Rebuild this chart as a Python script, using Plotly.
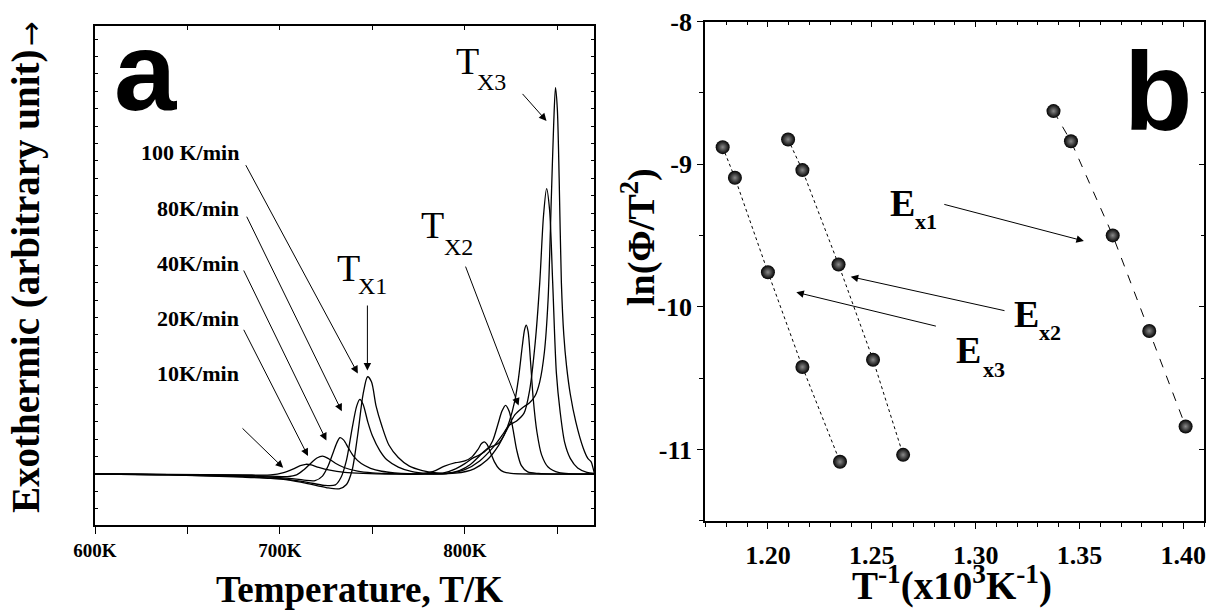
import plotly.graph_objects as go

W, H = 1208, 610

# ---------------- Panel a : DSC traces (T in K, signal in arbitrary units) ----------------
T10 = [600, 640, 680, 695, 702, 707, 711, 714, 717, 721, 727, 735, 745, 760, 775, 783, 789, 795, 800,
       804, 807, 809, 810.5, 812, 814, 816, 818.5, 821, 825, 835, 870]
Y10 = [0, -0.02, -0.05, -0.05, 0.08, 0.28, 0.48, 0.56, 0.52, 0.38, 0.22, 0.1, 0.04, 0.0, 0.0, 0.15, 0.45,
       0.65, 0.75, 1.0, 1.4, 1.75, 1.85, 1.7, 1.2, 0.7, 0.3, 0.12, 0.04, 0.0, 0.0]

T20 = [600, 640, 680, 695, 704, 709, 713, 717, 720, 723, 726, 730, 735, 742, 750, 760, 775, 788, 795,
       800, 804, 808, 812, 815, 818, 820, 822, 824, 826, 828, 830.5, 834, 840, 870]
Y20 = [0, -0.03, -0.08, -0.12, -0.15, -0.05, 0.25, 0.65, 0.92, 1.03, 0.9, 0.62, 0.36, 0.17, 0.07, 0.02,
       0.0, 0.05, 0.3, 0.6, 0.9, 1.1, 1.4, 1.9, 2.9, 3.6, 3.95, 3.6, 2.6, 1.4, 0.5, 0.12, 0.03, 0.0]

T40 = [600, 640, 680, 695, 705, 713, 719, 723, 726, 729, 731, 732.5, 734.5, 737, 740, 744, 749, 755,
       762, 770, 780, 790, 797, 803, 808, 812, 815, 818, 821, 824, 827, 829, 831, 832.3, 833.2, 834.2,
       835.5, 837, 839, 841.5, 845, 851, 870]
Y40 = [0, -0.04, -0.1, -0.17, -0.25, -0.35, -0.38, -0.12, 0.45, 1.3, 1.85, 2.09, 1.95, 1.5, 1.0, 0.6,
       0.33, 0.16, 0.07, 0.02, 0.0, 0.03, 0.2, 0.55, 1.05, 1.45, 1.6, 1.75, 2.2, 3.0, 4.2, 5.5, 7.3, 8.3,
       8.56, 8.2, 6.5, 4.3, 2.4, 1.1, 0.4, 0.08, 0.0]

T80 = [600, 640, 680, 695, 705, 715, 724, 730, 733, 736, 739, 741.5, 743.2, 745, 747.5, 750, 754, 758,
       764, 771, 780, 790, 800, 808, 815, 820, 824, 828, 832, 835, 838, 840.5, 842.5, 844.2, 845.8,
       847.5, 849.5, 851.5, 854, 857, 861, 866, 870]
Y80 = [0, -0.05, -0.15, -0.22, -0.32, -0.48, -0.65, -0.62, -0.2, 0.8, 2.6, 3.9, 4.29, 4.0, 3.0, 2.2,
       1.35, 0.8, 0.4, 0.15, 0.03, 0.03, 0.25, 0.75, 1.5, 2.2, 2.8, 3.05, 3.5, 4.8, 7.5, 11.0, 14.8, 16.4,
       15.2, 11.0, 5.8, 3.6, 1.8, 0.9, 0.35, 0.1, 0.03]

T100 = [600, 640, 680, 695, 705, 715, 725, 732, 736, 739, 742, 745, 747.4, 749.5, 752, 755, 759, 764,
        770, 777, 785, 795, 805, 812, 818, 823, 827, 831, 835, 838, 840.5, 843, 845, 846.8, 848, 849,
        850, 851, 852.2, 853.5, 855, 857, 860, 864, 866.5, 868.3, 869.3, 870]
Y100 = [0, -0.05, -0.18, -0.25, -0.35, -0.55, -0.78, -0.85, -0.6, 0.2, 2.2, 4.6, 5.59, 5.3, 3.9, 2.8,
        1.65, 0.95, 0.45, 0.2, 0.06, 0.05, 0.3, 0.8, 1.6, 2.6, 3.4, 3.8, 4.1, 4.5, 5.3, 7.0, 10.0, 16.0,
        20.0, 22.2, 21.0, 17.0, 11.0, 8.0, 6.2, 4.6, 3.0, 1.5, 0.9, 0.7, 0.35, 0.05]

A_XTICKS = [600, 650, 700, 750, 800, 850]
A_XTICKTEXT = ["600K", "", "700K", "", "800K", ""]
RATE_LABELS = ["100 K/min", "80K/min", "40K/min", "20K/min", "10K/min"]

# ---------------- Panel b : Kissinger plot ----------------
X_EX3 = [1.1782, 1.1841, 1.2000, 1.2166, 1.2347]
Y_EX3 = [-8.880, -9.095, -9.757, -10.422, -11.087]
X_EX2 = [1.2097, 1.2166, 1.2340, 1.2506, 1.2651]
Y_EX2 = [-8.826, -9.041, -9.703, -10.371, -11.038]
X_EX1 = [1.3375, 1.3459, 1.3660, 1.3836, 1.4011]
Y_EX1 = [-8.627, -8.839, -9.499, -10.169, -10.839]

B_XTICKS = [1.20, 1.25, 1.30, 1.35, 1.40]
B_XTICKTEXT = ["1.20", "1.25", "1.30", "1.35", "1.40"]
B_YTICKS = [-8, -9, -10, -11]
B_YTICKTEXT = ["-8", "-9", "-10", "-11"]

SERIF = "Liberation Serif, Times New Roman, serif"
SANS = "Liberation Sans, Arial, sans-serif"


def PX(x):
    return x / W


def PY(y):
    return 1 - y / H


fig = go.Figure()

for T, Y in [(T10, Y10), (T20, Y20), (T40, Y40), (T80, Y80), (T100, Y100)]:
    fig.add_trace(go.Scatter(x=T, y=Y, mode="lines", line=dict(color="black", width=1.3, shape="spline", smoothing=0.8),
                             xaxis="x", yaxis="y", showlegend=False, hoverinfo="skip"))

marker = dict(size=14, color="black", gradient=dict(type="radial", color="#8a8a8a"), line=dict(width=0))
for X, Y, dash in [(X_EX3, Y_EX3, "dot"), (X_EX2, Y_EX2, "dot"), (X_EX1, Y_EX1, "dash")]:
    fig.add_trace(go.Scatter(x=X, y=Y, mode="lines+markers", line=dict(color="black", width=1, dash=dash),
                             marker=marker, xaxis="x2", yaxis="y2", showlegend=False, hoverinfo="skip"))

# empty traces so overlay tick axes are created
for xa, ya in [("x3", "y"), ("x", "y3"), ("x4", "y2"), ("x2", "y4")]:
    fig.add_trace(go.Scatter(x=[], y=[], xaxis=xa, yaxis=ya, showlegend=False, hoverinfo="skip"))

AX_DOM = [95 / W, 594.3 / W]
AY_DOM = [1 - 525 / H, 1 - 26 / H]
BX_DOM = [705 / W, 1204.3 / W]
BY_DOM = [1 - 520.7 / H, 1 - 21.7 / H]
A_XR = [600, 870]
A_YR = [-2.93, 25.75]
B_XR = [1.1697, 1.4101]
B_YR = [-11.5, -8]

common = dict(showgrid=False, zeroline=False, linecolor="black", linewidth=1.6, tickcolor="black",
              automargin=False)
overlay = dict(showticklabels=False, showline=False, showgrid=False, zeroline=False, tickcolor="black",
               automargin=False)

fig.update_layout(
    width=W, height=H, margin=dict(l=0, r=0, t=0, b=0, pad=0, autoexpand=False),
    paper_bgcolor="white", plot_bgcolor="white",
    xaxis=dict(domain=AX_DOM, range=A_XR, anchor="y", tickvals=A_XTICKS, ticktext=A_XTICKTEXT,
               ticks="outside", ticklen=7, tickwidth=1, mirror=True,
               tickfont=dict(family=SERIF, size=19, color="black", weight="bold"), **common),
    yaxis=dict(domain=AY_DOM, range=A_YR, anchor="x", dtick=1, tick0=0, ticks="inside", ticklen=3,
               tickwidth=1, showticklabels=False, mirror=True, **common),
    xaxis3=dict(overlaying="x", anchor="y", side="top", range=A_XR, tickvals=A_XTICKS, ticks="inside",
                ticklen=4, tickwidth=1, **overlay),
    yaxis3=dict(overlaying="y", anchor="x", side="right", range=A_YR, dtick=1, tick0=0, ticks="inside",
                ticklen=3, tickwidth=1, **overlay),
    xaxis2=dict(domain=BX_DOM, range=B_XR, anchor="y2", tickvals=B_XTICKS, ticktext=B_XTICKTEXT,
                ticks="outside", ticklen=6, tickwidth=1, mirror=True, ticklabelstandoff=4,
                minor=dict(dtick=0.01, tick0=1.2, ticks="outside", ticklen=4, tickwidth=1, tickcolor="black"),
                tickfont=dict(family=SERIF, size=26, color="black", weight="bold"), **common),
    yaxis2=dict(domain=BY_DOM, range=B_YR, anchor="x2", tickvals=B_YTICKS, ticktext=B_YTICKTEXT,
                ticks="outside", ticklen=6, tickwidth=1, mirror=True,
                minor=dict(dtick=0.5, tick0=-8, ticks="outside", ticklen=4, tickwidth=1, tickcolor="black"),
                tickfont=dict(family=SERIF, size=26, color="black", weight="bold"), **common),
    xaxis4=dict(overlaying="x2", anchor="y2", side="top", range=B_XR, tickvals=B_XTICKS, ticks="inside",
                ticklen=5, tickwidth=1,
                minor=dict(dtick=0.01, tick0=1.2, ticks="inside", ticklen=3, tickwidth=1, tickcolor="black"),
                **overlay),
    yaxis4=dict(overlaying="y2", anchor="x2", side="right", range=B_YR, tickvals=B_YTICKS, ticks="inside",
                ticklen=5, tickwidth=1,
                minor=dict(dtick=0.5, tick0=-8, ticks="inside", ticklen=3, tickwidth=1, tickcolor="black"),
                **overlay),
)

ann = []


def text(x, y, s, size, family=SERIF, bold=True, xanchor="left", angle=0):
    ann.append(dict(x=PX(x), y=PY(y), xref="paper", yref="paper", text=(f"<b>{s}</b>" if bold else s),
                    showarrow=False, xanchor=xanchor, yanchor="middle", textangle=angle,
                    font=dict(family=family, size=size, color="black")))


def arrow(x0, y0, x1, y1):
    ann.append(dict(x=PX(x1), y=PY(y1), xref="paper", yref="paper", text="", showarrow=True,
                    ax=x0 - x1, ay=y0 - y1, arrowhead=2, arrowsize=1.5, arrowwidth=1, arrowcolor="black",
                    standoff=0, startstandoff=0))


# panel letters
text(112, 71, "a", 112, family=SANS)
text(1122, 91, "b", 112, family=SANS)

# panel a titles
text(359, 589, "Temperature, T/K", 37, xanchor="center")
text(26, 281, "Exothermic (arbitrary unit)", 39, xanchor="center", angle=-90)
text(30.5, 34, "→", 30, family="DejaVu Sans", bold=False, xanchor="center", angle=-90)

# rate labels and arrows
rate_y = [152.4, 209.0, 264.0, 318.6, 373.2]
for lab, yy in zip(RATE_LABELS, rate_y):
    text(241, yy, lab, 22, xanchor="right")
arrow(245, 163.7, 357.8, 373.5)
arrow(246, 215.2, 341.8, 411.3)
arrow(243, 269, 326.4, 440.5)
arrow(243, 328.3, 308, 456.1)
arrow(241, 426.9, 283.2, 467.8)

# Tx labels
for (tx, ty, sx, sy, sub) in [(335, 268, 356, 286, "X1"), (419, 225, 442, 247, "X2"), (453.5, 61, 474.5, 82, "X3")]:
    text(tx, ty, "T", 38, bold=False)
    text(sx, sy, sub, 24, bold=False)
arrow(367.4, 304, 367.4, 370.4)
arrow(465, 265.1, 518.6, 405.5)
arrow(521.2, 92.4, 546.5, 120.9)

# panel b titles
text(951.8, 583, "T<sup>-1</sup>(x10<sup>3</sup>K<sup>-1</sup>)", 39, xanchor="center")
text(638, 237, "ln(Φ/T<sup>2</sup>)", 38, xanchor="center", angle=-90)

# Ex labels
for (ex, ey, sx, sy, sub) in [(887.5, 203, 913, 221.6, "x1"), (1012, 313.7, 1037, 332.6, "x2"),
                              (953.6, 350.2, 981, 369.6, "x3")]:
    text(ex, ey, "E", 38)
    text(sx, sy, sub, 22)
arrow(942.8, 204, 1083.9, 241)
arrow(1006, 311, 850.7, 276.7)
arrow(937.4, 326.5, 796.3, 292.3)

fig.update_layout(annotations=ann)
fig.write_html("out.html", config={"displayModeBar": False},
               post_script="document.body.style.margin='0px';document.body.style.overflow='hidden';")
